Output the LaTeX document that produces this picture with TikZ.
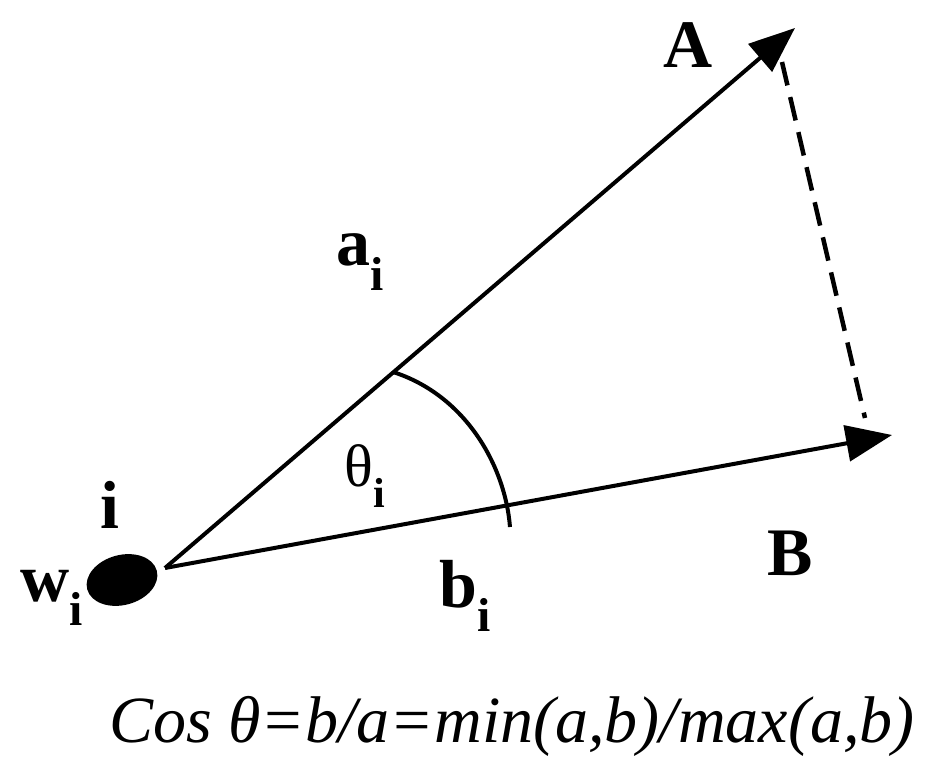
\documentclass[tikz,border=0pt]{standalone}
\usepackage{fontspec}
\setmainfont{Liberation Serif}
\usetikzlibrary{arrows.meta}
\begin{document}
\begin{tikzpicture}[x=1pt,y=-1pt,
  vec/.style={line width=4pt,-{Triangle[length=46pt,width=36pt]}},
  lbl/.style={font=\fontsize{68}{74}\selectfont\bfseries,inner sep=0pt},
  sub/.style={font=\fontsize{34}{40}\selectfont\bfseries}]
\useasboundingbox (0,0) rectangle (938,767);
\fill[black,rotate around={15:(122,580)}] (122,580) ellipse (36 and 25);
\coordinate (O) at (165,568);
\coordinate (A) at (795,28);
\coordinate (B) at (892,435);
\coordinate (D1) at (782,62);
\coordinate (D2) at (865,418);
\coordinate (C1) at (393,372);
\coordinate (C2) at (510,527);
\draw[vec] (O) -- (A);
\draw[vec] (O) -- (B);
\draw[line width=4.5pt,dash pattern=on 24pt off 12pt] (D1) -- (D2);
\draw[line width=4pt] (C1) .. controls (465,395) and (505,465) .. (C2);
\node[lbl] (lA) at (688,45) {A};
\node[lbl] (lB) at (790,553) {B};
\node[lbl] (la) at (360,262) {a\textsubscript{i}};
\node[lbl] (lb) at (465,596) {b\textsubscript{i}};
\node[lbl] (li) at (110,505) {i};
\node[lbl] (lw) at (52,598) {w\textsubscript{i}};
\node[inner sep=0pt,font=\fontsize{60}{66}\selectfont] (lt) at (365,476) {θ\textsubscript{\bfseries i}};
\node[inner sep=0pt,font=\fontsize{66}{72}\selectfont\itshape] (f) at (512,726) {Cos θ=b/a=min(a,b)/max(a,b)};
\end{tikzpicture}
\end{document}
